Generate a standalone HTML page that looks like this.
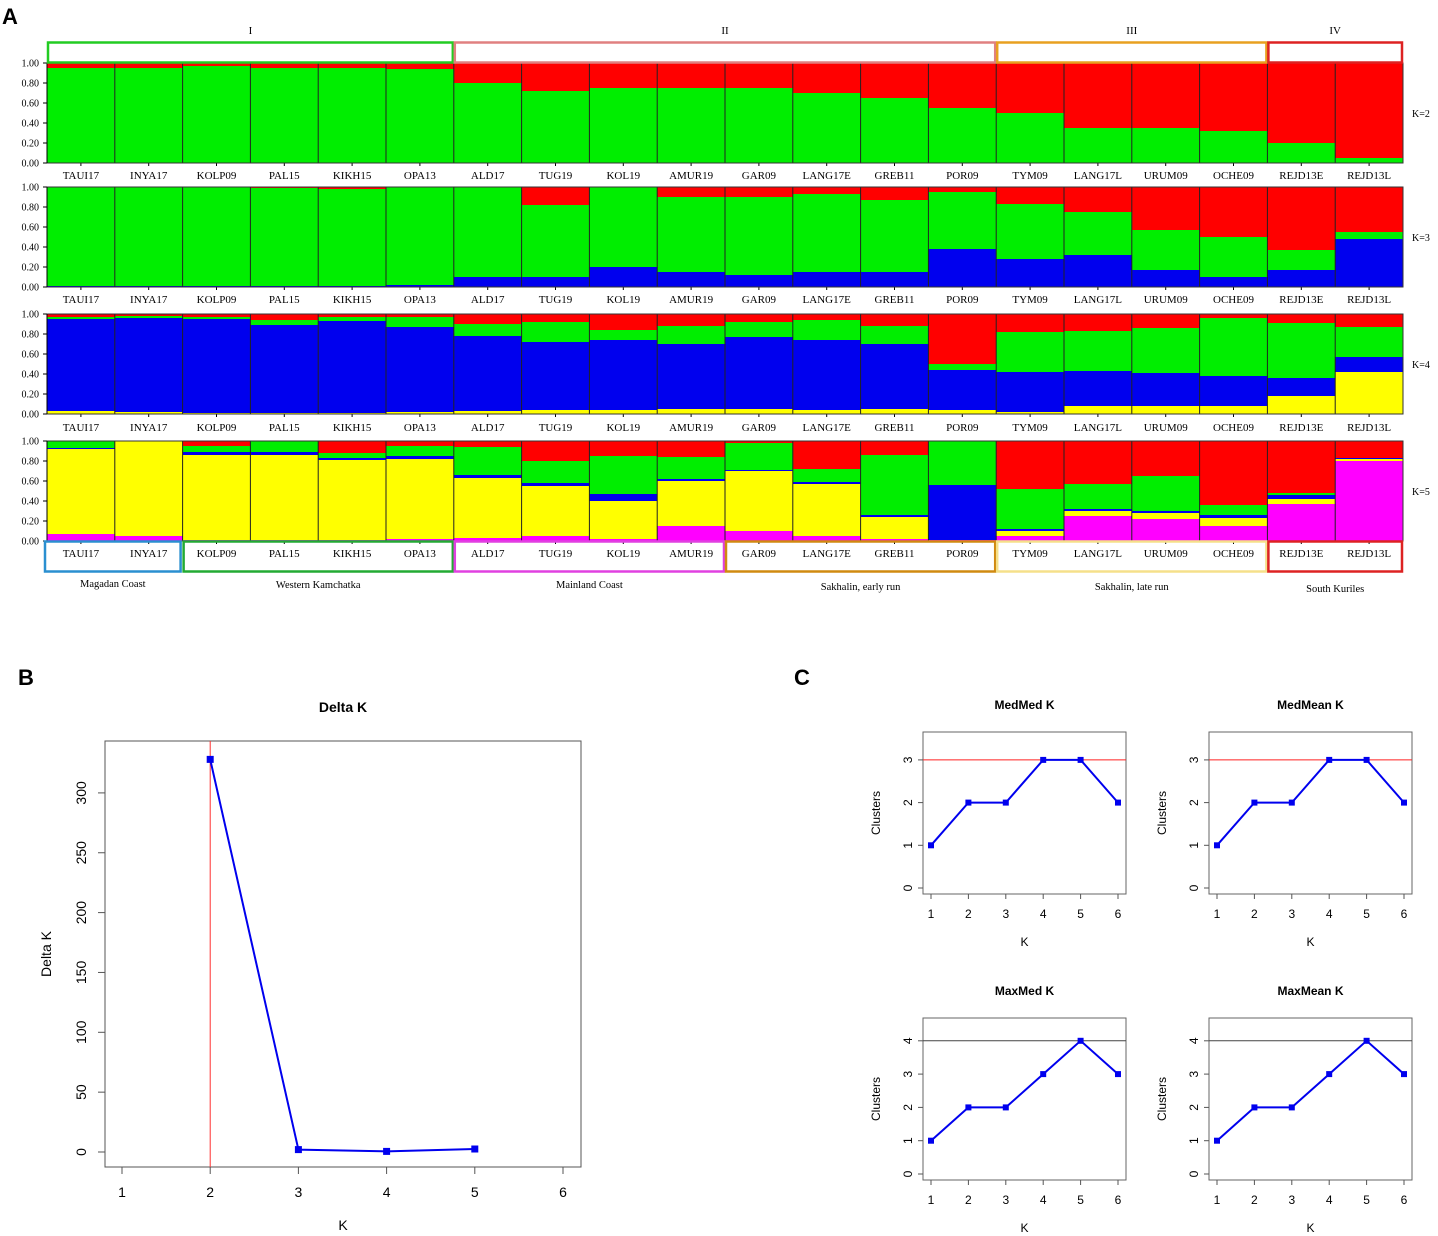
<!DOCTYPE html>
<html><head><meta charset="utf-8">
<style>
body{margin:0;background:#fff;}
svg{display:block;font-family:"Liberation Serif",serif;}
.sans{font-family:"Liberation Sans",Arial,sans-serif;}
</style></head>
<body>
<svg id="fig" width="1438" height="1236" viewBox="0 0 1438 1236" xmlns="http://www.w3.org/2000/svg">
<text x="2" y="24" class="sans" font-size="22" font-weight="bold">A</text>
<text x="18" y="685" class="sans" font-size="22" font-weight="bold">B</text>
<text x="794" y="685" class="sans" font-size="22" font-weight="bold">C</text>
<g id="gA"></g>
<g id="gB"></g>
<g id="gC"></g>
</svg>
<script>
const pops=["TAUI17","INYA17","KOLP09","PAL15","KIKH15","OPA13","ALD17","TUG19","KOL19","AMUR19","GAR09","LANG17E","GREB11","POR09","TYM09","LANG17L","URUM09","OCHE09","REJD13E","REJD13L"];
// K=2: [green, red] bottom to top
const k2green=[0.95,0.95,0.97,0.95,0.95,0.94,0.80,0.72,0.75,0.75,0.75,0.70,0.65,0.55,0.50,0.35,0.35,0.32,0.20,0.05];
// K=3 bottom->top: blue, green, red
const k3blue=[0.01,0.01,0.01,0.01,0.01,0.02,0.10,0.10,0.20,0.15,0.12,0.15,0.15,0.38,0.28,0.32,0.17,0.10,0.17,0.48];
const k3green=[0.99,0.99,0.99,0.98,0.97,0.98,0.90,0.72,0.80,0.75,0.78,0.78,0.72,0.57,0.55,0.43,0.40,0.40,0.20,0.07];
// K=4 bottom->top: yellow, blue, green, red
const k4yellow=[0.03,0.02,0.01,0.01,0.01,0.02,0.03,0.04,0.04,0.05,0.05,0.04,0.05,0.04,0.02,0.08,0.08,0.08,0.18,0.42];
const k4blue=[0.92,0.94,0.94,0.88,0.92,0.85,0.75,0.68,0.70,0.65,0.72,0.70,0.65,0.40,0.40,0.35,0.33,0.30,0.18,0.15];
const k4green=[0.02,0.02,0.02,0.05,0.04,0.10,0.12,0.20,0.10,0.18,0.15,0.20,0.18,0.06,0.40,0.40,0.45,0.58,0.55,0.30];
// K=5 bottom->top: magenta, yellow, blue, green, red
const k5mag=[0.07,0.05,0.01,0.01,0.01,0.02,0.03,0.05,0.02,0.15,0.10,0.05,0.02,0.01,0.05,0.25,0.22,0.15,0.37,0.80];
const k5yellow=[0.85,0.95,0.85,0.85,0.80,0.80,0.60,0.50,0.38,0.45,0.60,0.52,0.22,0.00,0.05,0.05,0.06,0.08,0.05,0.02];
const k5blue=[0.01,0.00,0.03,0.03,0.02,0.03,0.03,0.03,0.07,0.02,0.01,0.02,0.02,0.55,0.02,0.02,0.02,0.03,0.04,0.01];
const k5green=[0.07,0.00,0.06,0.11,0.05,0.10,0.28,0.22,0.38,0.22,0.27,0.13,0.60,0.44,0.40,0.25,0.35,0.10,0.02,0.00];
const NS="http://www.w3.org/2000/svg";
function mk(tag,attrs,parent,txt){const e=document.createElementNS(NS,tag);for(const k in attrs)e.setAttribute(k,attrs[k]);if(txt!==undefined)e.textContent=txt;parent.appendChild(e);return e;}
const gA=document.getElementById('gA');
const X0=47,X1=1403,PW=(X1-X0)/pops.length,RH=100;
const rows=[
 {top:63,label:"K=2",layers:[[k2green,"#00ee00"]],topc:"#ff0000",ly:175},
 {top:187,label:"K=3",layers:[[k3blue,"#0000ee"],[k3green,"#00ee00"]],topc:"#ff0000",ly:299},
 {top:314,label:"K=4",layers:[[k4yellow,"#ffff00"],[k4blue,"#0000ee"],[k4green,"#00ee00"]],topc:"#ff0000",ly:427},
 {top:441,label:"K=5",layers:[[k5mag,"#ff00ff"],[k5yellow,"#ffff00"],[k5blue,"#0000ee"],[k5green,"#00ee00"]],topc:"#ff0000",ly:553}
];
const yv=(top,v)=>top+RH*(1-v);
rows.forEach((r,ri)=>{
  const g=mk('g',{},gA);
  
  
  // background = top colour
  const bg=mk('rect',{x:X0,y:r.top,width:X1-X0,height:RH,fill:r.topc},g);
  
  
  pops.forEach((p,i)=>{
    let cum=0;
    r.layers.forEach(([arr,col])=>{
      const v=arr[i];
      const y1=yv(r.top,cum+v),y0=yv(r.top,cum);
      const b=mk('rect',{x:X0+i*PW,y:y1,width:PW+0.3,height:Math.max(0,y0-y1),fill:col},g);
      
      
      cum+=v;
    });
    if(i>0)mk('line',{x1:X0+i*PW,x2:X0+i*PW,y1:r.top,y2:r.top+RH,stroke:"#222","stroke-width":1},g);
    const t=mk('text',{x:X0+(i+0.5)*PW,y:r.ly+4,"font-size":11,"text-anchor":"middle"},g,p);
    
    
    mk('line',{x1:X0+(i+0.5)*PW,x2:X0+(i+0.5)*PW,y1:r.top+RH,y2:r.top+RH+3,stroke:"#000"},g);
  });
  mk('rect',{x:X0,y:r.top,width:X1-X0,height:RH,fill:"none",stroke:"#333","stroke-width":1},g);
  mk('line',{x1:X0,x2:X0,y1:r.top,y2:r.top+RH,stroke:"#000"},g);
  ["0.00","0.20","0.40","0.60","0.80","1.00"].forEach((l,j)=>{
    const y=yv(r.top,j*0.2);
    mk('line',{x1:X0-4,x2:X0,y1:y,y2:y,stroke:"#000"},g);
    mk('text',{x:X0-8,y:y+3.5,"font-size":10,"text-anchor":"end"},g,l);
  });
  const kl=mk('text',{x:1412,y:r.top+RH/2+4,"font-size":10},g,r.label);
  
  
});
// group boxes
const groups=[["I",0,6,"#22cc22"],["II",6,14,"#e08080"],["III",14,18,"#e8a020"],["IV",18,20,"#dd2222"]];
groups.forEach(([n,a,b,c])=>{
  const x=X0+a*PW+1,w=(b-a)*PW-2;
  const r=mk('rect',{x:x,y:42.5,width:w,height:20,fill:"#fff",stroke:c,"stroke-width":2.5},gA);
  
  
  mk('text',{x:x+w/2,y:34,"font-size":11,"text-anchor":"middle"},gA,n);
});
const regions=[["Magadan Coast",0,2,"#2a8fd0",584],["Western Kamchatka",2,6,"#22aa33",585],["Mainland Coast",6,10,"#e040e0",585],["Sakhalin, early run",10,14,"#d08a10",587],["Sakhalin, late run",14,18,"#f5e08a",587],["South Kuriles",18,20,"#dd2222",589]];
regions.forEach(([n,a,b,c,ty])=>{
  const x=X0+a*PW+(a==0?-2:1),w=(b-a)*PW-(a==0?0:2);
  const r=mk('rect',{x:x,y:541.5,width:w,height:30,fill:"none",stroke:c,"stroke-width":2.5},gA);
  
  
  mk('text',{x:x+w/2,y:ty+3,"font-size":10.5,"text-anchor":"middle"},gA,n);
});

// Panel B
const bK=[2,3,4,5];
const bDelta=[328,2,0.5,2.5];
const bXticks=[1,2,3,4,5,6];
const bYticks=[0,50,100,150,200,250,300];
const gB=document.getElementById('gB');
const bx=k=>122+(k-1)*88.2, by=v=>1152-v*1.197;
mk('text',{x:343,y:712,"font-size":14,"font-weight":"bold","text-anchor":"middle",class:"sans"},gB,"Delta K");
mk('rect',{x:105,y:741,width:476,height:426,fill:"none",stroke:"#555"},gB);
mk('line',{x1:bx(2),x2:bx(2),y1:741,y2:1167,stroke:"#ff3030"},gB);
bXticks.forEach(k=>{mk('line',{x1:bx(k),x2:bx(k),y1:1167,y2:1174,stroke:"#555"},gB);mk('text',{x:bx(k),y:1197,"font-size":14,"text-anchor":"middle",class:"sans"},gB,k);});
bYticks.forEach(v=>{mk('line',{x1:98,x2:105,y1:by(v),y2:by(v),stroke:"#555"},gB);mk('text',{x:0,y:0,"font-size":14,"text-anchor":"middle",class:"sans",transform:`translate(86,${by(v)}) rotate(-90)`},gB,v);});
mk('text',{x:343,y:1230,"font-size":14,"text-anchor":"middle",class:"sans"},gB,"K");
mk('text',{x:0,y:0,"font-size":14,"text-anchor":"middle",class:"sans",transform:"translate(51,954) rotate(-90)"},gB,"Delta K");
mk('polyline',{points:bK.map((k,i)=>bx(k)+","+by(bDelta[i])).join(" "),fill:"none",stroke:"#0000ee","stroke-width":2},gB);
bK.forEach((k,i)=>{const p=mk('rect',{x:bx(k)-3.5,y:by(bDelta[i])-3.5,width:7,height:7,fill:"#0000ee"},gB);});

// Panel C
const cK=[1,2,3,4,5,6];
const medMed=[1,2,2,3,3,2];
const medMean=[1,2,2,3,3,2];
const maxMed=[1,2,2,3,4,3];
const maxMean=[1,2,2,3,4,3];
const gC=document.getElementById('gC');
const panels=[
 {t:"MedMed K",d:medMed,x0:923,y0:732,ref:3,rc:"#ff2020",ymax:3,y0v:888,unit:42.7},
 {t:"MedMean K",d:medMean,x0:1209,y0:732,ref:3,rc:"#ff2020",ymax:3,y0v:888,unit:42.7},
 {t:"MaxMed K",d:maxMed,x0:923,y0:1018,ref:4,rc:"#444",ymax:4,y0v:1174,unit:33.3},
 {t:"MaxMean K",d:maxMean,x0:1209,y0:1018,ref:4,rc:"#444",ymax:4,y0v:1174,unit:33.3}
];
panels.forEach(P=>{
  const g=mk('g',{},gC);
  
  
  const W=203,H=162;
  const px=k=>P.x0+8+(k-1)*37.4, py=v=>P.y0v-v*P.unit;
  mk('text',{x:P.x0+W/2,y:P.y0-23,"font-size":12,"font-weight":"bold","text-anchor":"middle",class:"sans"},g,P.t);
  mk('rect',{x:P.x0,y:P.y0,width:W,height:H,fill:"none",stroke:"#666"},g);
  mk('line',{x1:P.x0,x2:P.x0+W,y1:py(P.ref),y2:py(P.ref),stroke:P.rc},g);
  cK.forEach(k=>{mk('line',{x1:px(k),x2:px(k),y1:P.y0+H,y2:P.y0+H+5,stroke:"#555"},g);mk('text',{x:px(k),y:P.y0+H+24,"font-size":12,"text-anchor":"middle",class:"sans"},g,k);});
  for(let v=0;v<=P.ymax;v++){mk('line',{x1:P.x0-5,x2:P.x0,y1:py(v),y2:py(v),stroke:"#555"},g);mk('text',{x:0,y:0,"font-size":12,"text-anchor":"middle",class:"sans",transform:`translate(${P.x0-11},${py(v)}) rotate(-90)`},g,v);}
  mk('text',{x:P.x0+W/2,y:P.y0+H+52,"font-size":12,"text-anchor":"middle",class:"sans"},g,"K");
  mk('text',{x:0,y:0,"font-size":12,"text-anchor":"middle",class:"sans",transform:`translate(${P.x0-43},${P.y0+H/2}) rotate(-90)`},g,"Clusters");
  mk('polyline',{points:cK.map((k,i)=>px(k)+","+py(P.d[i])).join(" "),fill:"none",stroke:"#0000ee","stroke-width":2},g);
  cK.forEach((k,i)=>{const p=mk('rect',{x:px(k)-3,y:py(P.d[i])-3,width:6,height:6,fill:"#0000ee"},g);});
});
</script>
</body></html>
